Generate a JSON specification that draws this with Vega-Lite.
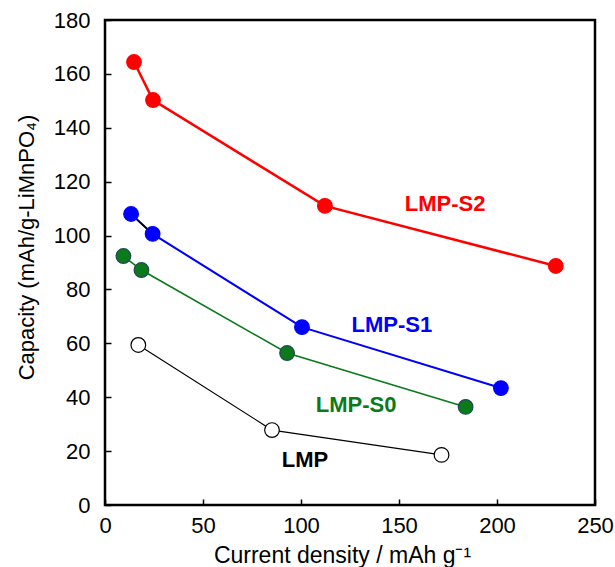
{
  "$schema": "https://vega.github.io/schema/vega-lite/v6.json",
  "width": 490,
  "height": 485,
  "autosize": "none",
  "padding": {"left": 105, "top": 20, "right": 20, "bottom": 62},
  "config": {
    "view": {"stroke": "black", "strokeWidth": 2.5},
    "font": "Liberation Sans",
    "axis": {
      "grid": false,
      "domain": false,
      "tickColor": "black",
      "tickWidth": 1.5,
      "tickSize": -6,
      "labelFlush": false,
      "labelFont": "Liberation Sans",
      "labelFontSize": 22,
      "labelColor": "black",
      "titleFont": "Liberation Sans",
      "titleFontSize": 22,
      "titleFontWeight": "normal",
      "titleColor": "black"
    }
  },
  "datasets": {
    "pts": [
      {"series": "LMP-S2", "x": 14.8, "y": 164.4},
      {"series": "LMP-S2", "x": 24.5, "y": 150.3},
      {"series": "LMP-S2", "x": 112.2, "y": 111.0},
      {"series": "LMP-S2", "x": 230.0, "y": 88.7},
      {"series": "LMP-S1", "x": 13.3, "y": 108.0},
      {"series": "LMP-S1", "x": 24.3, "y": 100.6},
      {"series": "LMP-S1", "x": 100.5, "y": 66.0},
      {"series": "LMP-S1", "x": 202.0, "y": 43.4},
      {"series": "LMP-S0", "x": 9.4, "y": 92.4},
      {"series": "LMP-S0", "x": 18.6, "y": 87.2},
      {"series": "LMP-S0", "x": 92.9, "y": 56.4},
      {"series": "LMP-S0", "x": 184.0, "y": 36.4},
      {"series": "LMP", "x": 17.0, "y": 59.4},
      {"series": "LMP", "x": 85.2, "y": 27.8},
      {"series": "LMP", "x": 171.7, "y": 18.6}
    ],
    "seg": [
      {"x": 13.3, "y": 108.0, "x2": 24.3, "y2": 100.6}
    ],
    "labels": [
      {"series": "LMP-S2", "x": 173.5, "y": 111.7},
      {"series": "LMP-S1", "x": 146.4, "y": 66.8},
      {"series": "LMP-S0", "x": 128.1, "y": 37.1},
      {"series": "LMP", "x": 102.0, "y": 16.7}
    ]
  },
  "layer": [
    {
      "data": {"name": "pts"},
      "mark": {"type": "line"},
      "encoding": {
        "x": {"field": "x", "type": "quantitative", "scale": {"domain": [0, 250], "nice": false, "zero": false},
              "axis": {"values": [0, 50, 100, 150, 200, 250], "title": "Current density / mAh g\u207b\u00b9", "labelPadding": 16, "labelDx": -4, "titlePadding": 8, "titleFontSize": 23, "titleX": 237}},
        "y": {"field": "y", "type": "quantitative", "scale": {"domain": [0, 180], "nice": false},
              "axis": {"values": [0, 20, 40, 60, 80, 100, 120, 140, 160, 180], "title": "Capacity (mAh/g-LiMnPO\u2084)", "labelPadding": 21, "titleX": -79, "titleY": 227, "titleBaseline": "middle", "titleAngle": -90}},
        "order": {"field": "x", "type": "quantitative"},
        "detail": {"field": "series"},
        "color": {"field": "series", "type": "nominal", "legend": null,
                  "scale": {"domain": ["LMP-S2", "LMP-S1", "LMP-S0", "LMP"], "range": ["#ff0000", "#0000ff", "#0a7a1a", "#000000"]}},
        "strokeWidth": {"field": "series", "type": "nominal", "legend": null,
                  "scale": {"domain": ["LMP-S2", "LMP-S1", "LMP-S0", "LMP"], "range": [2.5, 1.2, 1.2, 1.2]}}
      }
    },
    {
      "data": {"name": "seg"},
      "mark": {"type": "rule", "color": "#000000", "strokeWidth": 1.3},
      "encoding": {
        "x": {"field": "x", "type": "quantitative"},
        "y": {"field": "y", "type": "quantitative"},
        "x2": {"field": "x2"},
        "y2": {"field": "y2"}
      }
    },
    {
      "data": {"name": "pts"},
      "mark": {"type": "point", "shape": "circle", "filled": true, "size": 215, "strokeWidth": 1.2, "opacity": 1},
      "encoding": {
        "x": {"field": "x", "type": "quantitative"},
        "y": {"field": "y", "type": "quantitative"},
        "fill": {"field": "series", "type": "nominal", "legend": null,
                 "scale": {"domain": ["LMP-S2", "LMP-S1", "LMP-S0", "LMP"], "range": ["#ff0000", "#0000ff", "#0a7a1a", "#ffffff"]}},
        "stroke": {"field": "series", "type": "nominal", "legend": null,
                 "scale": {"domain": ["LMP-S2", "LMP-S1", "LMP-S0", "LMP"], "range": ["#ff0000", "#0000ff", "#1f4a55", "#000000"]}}
      }
    },
    {
      "data": {"name": "labels"},
      "mark": {"type": "text", "font": "Liberation Sans", "fontSize": 22, "fontWeight": "bold", "align": "center", "baseline": "middle"},
      "encoding": {
        "x": {"field": "x", "type": "quantitative"},
        "y": {"field": "y", "type": "quantitative"},
        "text": {"field": "series"},
        "color": {"field": "series", "type": "nominal", "legend": null,
                  "scale": {"domain": ["LMP-S2", "LMP-S1", "LMP-S0", "LMP"], "range": ["#ff0000", "#0000ff", "#0a6a10", "#000000"]}}
      }
    }
  ]
}
